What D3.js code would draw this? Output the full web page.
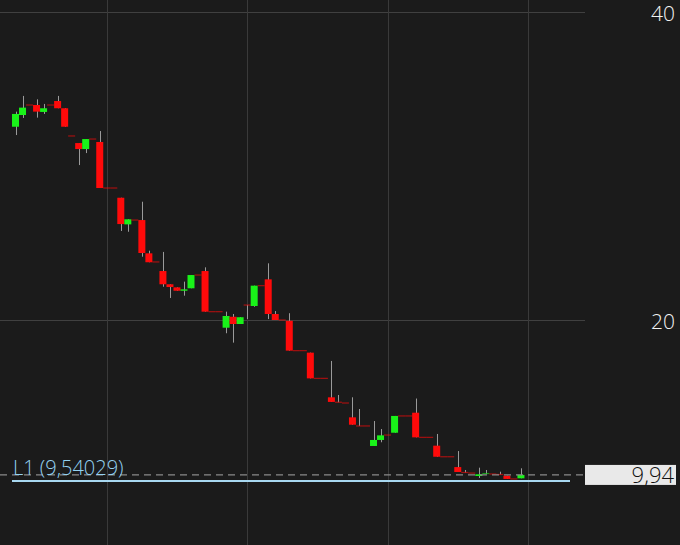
<!DOCTYPE html>
<html><head><meta charset="utf-8">
<script src="https://cdn.jsdelivr.net/npm/d3@7"></script>
<style>html,body{margin:0;padding:0;background:#1b1b1b;overflow:hidden}</style>
</head><body>
<svg id="c" width="680" height="545"></svg>
<script>
const openV  = [32.55,33.31,33.96,33.96,33.51,33.96,34.22,33.75,31.95,31.49,31.10,31.75,31.56,28.57,28.57,27.94,26.21,26.49,26.49,24.33,23.77,23.18,22.32,22.12,21.90,22.06,22.92,23.18,20.54,20.54,19.50,20.21,19.74,20.97,20.91,22.23,22.64,20.39,20.00,19.95,18.01,18.01,17.88,16.21,16.21,14.98,14.66,14.61,13.68,13.12,13.12,11.82,12.21,12.53,12.68,13.77,13.77,13.98,12.38,12.38,11.84,11.12,11.12,10.45,10.10,10.06,9.87,10.02,10.00,9.97,9.89,9.68,9.72];
const highV  = [33.53,34.55,33.96,34.33,34.03,33.96,34.55,33.75,31.95,31.49,31.75,31.75,32.27,28.57,28.57,27.94,26.54,26.49,27.68,24.50,23.77,24.42,22.32,22.12,22.49,22.92,22.92,23.42,20.54,20.54,20.54,20.39,20.18,20.97,22.23,22.23,23.68,20.58,20.00,20.44,18.01,18.01,17.88,16.21,16.21,17.34,15.13,14.61,14.98,14.22,13.12,13.44,12.92,12.53,13.77,13.77,13.77,14.90,12.38,12.38,12.60,11.12,11.12,11.49,10.26,10.06,10.41,10.26,10.00,10.15,9.89,9.68,10.37];
const lowV   = [32.01,33.12,33.96,33.14,33.38,33.96,33.75,32.55,31.95,30.06,30.84,31.75,28.57,28.57,28.57,25.78,25.73,26.49,24.11,23.75,23.77,22.16,21.43,21.90,21.58,22.06,22.92,20.54,20.54,20.54,19.14,18.53,19.74,20.06,20.86,22.23,20.06,20.00,20.00,18.01,18.01,18.01,16.21,16.21,16.21,14.68,14.66,14.61,13.20,13.12,13.12,11.82,12.06,12.53,12.68,13.77,13.77,12.38,12.38,12.38,11.12,11.12,11.12,10.13,10.10,10.06,9.74,10.02,10.00,9.97,9.68,9.68,9.72];
const closeV = [33.38,33.79,33.96,33.53,33.75,33.96,33.75,32.55,31.95,31.10,31.75,31.75,28.57,28.57,28.57,26.23,26.54,26.49,24.35,23.75,23.77,22.32,22.14,21.90,21.99,22.92,22.92,20.54,20.54,20.54,20.26,19.74,20.18,20.97,22.23,22.23,20.39,20.00,20.00,18.01,18.01,18.01,16.21,16.21,16.21,14.68,14.66,14.61,13.20,13.12,13.12,12.21,12.51,12.53,13.77,13.77,13.77,12.38,12.38,12.38,11.12,11.12,11.12,10.13,10.10,10.06,9.98,10.04,10.00,9.97,9.68,9.68,9.94];
const yTicks = [20, 40];
const gridIndex = [13, 33, 53, 73];
const lastPrice = 9.94;
const lastLabel = "9,94";
const levelValue = 9.54029;
const levelLabel = "L1 (9,54029)";

const W = 680, H = 545;
const svg = d3.select("#c");
svg.append("rect").attr("width", W).attr("height", H).attr("fill", "#1b1b1b");

const n = openV.length;
const x = d3.scaleLinear().domain([0, 73]).range([15.5, 15.5 + 7.02 * 73]);
const y = d3.scaleLinear().domain([20, 40]).range([320, 12]);
const plotRight = 585;
const font = "'Open Sans', 'Noto Sans', sans-serif";

// grid
svg.append("g").selectAll("line").data(yTicks).join("line")
  .attr("x1", 0).attr("x2", plotRight)
  .attr("y1", d => Math.round(y(d)) + 0.5).attr("y2", d => Math.round(y(d)) + 0.5)
  .attr("stroke", "#404040").attr("stroke-width", 1);
svg.append("g").selectAll("line").data(gridIndex).join("line")
  .attr("x1", d => Math.round(x(d)) + 0.5).attr("x2", d => Math.round(x(d)) + 0.5)
  .attr("y1", 0).attr("y2", H)
  .attr("stroke", "#3a3a3a").attr("stroke-width", 1);

// y labels
svg.append("g").selectAll("text").data(yTicks).join("text")
  .attr("x", 675).attr("y", d => y(d) + 1).attr("dy", "0.36em")
  .attr("text-anchor", "end").attr("fill", "#f2f2f2")
  .attr("font-family", font).attr("font-size", 21).attr("font-weight", 300)
  .text(d => d);

const data = d3.range(n).map(i => ({i, o: openV[i], h: highV[i], l: lowV[i], c: closeV[i]}));
const bw = 7;

// wicks
svg.append("g").selectAll("line").data(data.filter(d => d.h > d.l)).join("line")
  .attr("x1", d => Math.round(x(d.i)) + 0.5).attr("x2", d => Math.round(x(d.i)) + 0.5)
  .attr("y1", d => y(d.h)).attr("y2", d => y(d.l))
  .attr("stroke", "#9a9a9a").attr("stroke-width", 1);

// bodies
svg.append("g").selectAll("rect").data(data).join("rect")
  .attr("x", d => x(d.i) - bw / 2)
  .attr("width", bw)
  .attr("y", d => {
    const t = y(Math.max(d.o, d.c)), b = y(Math.min(d.o, d.c));
    return (b - t) < 1.2 ? (t + b) / 2 - 0.6 : t;
  })
  .attr("height", d => Math.max(1.2, y(Math.min(d.o, d.c)) - y(Math.max(d.o, d.c))))
  .attr("fill", d => d.c > d.o ? "#19f219" : "#ff0a0a")
  .attr("opacity", d => Math.abs(d.c - d.o) < 0.05 ? 0.6 : 1);

// last price dashed line
svg.append("line")
  .attr("x1", 0).attr("x2", plotRight)
  .attr("y1", y(lastPrice)).attr("y2", y(lastPrice))
  .attr("stroke", "#8a8a8a").attr("stroke-width", 1.3).attr("stroke-dasharray", "7,5");

// level line
svg.append("line")
  .attr("x1", 12).attr("x2", 570)
  .attr("y1", y(levelValue)).attr("y2", y(levelValue))
  .attr("stroke", "#a8d8f0").attr("stroke-width", 2);
svg.append("text")
  .attr("x", 13).attr("y", y(levelValue) - 6)
  .attr("fill", "#94d2f2")
  .attr("font-family", font).attr("font-size", 20).attr("font-weight", 300)
  .text(levelLabel);

// price label box
svg.append("rect")
  .attr("x", 585).attr("y", y(lastPrice) - 10).attr("width", 91).attr("height", 20)
  .attr("fill", "#e9e9e9");
svg.append("text")
  .attr("x", 674).attr("y", y(lastPrice) + 0.5).attr("dy", "0.36em")
  .attr("text-anchor", "end").attr("fill", "#111")
  .attr("font-family", font).attr("font-size", 22).attr("font-weight", 300)
  .text(lastLabel);
</script>
</body></html>
